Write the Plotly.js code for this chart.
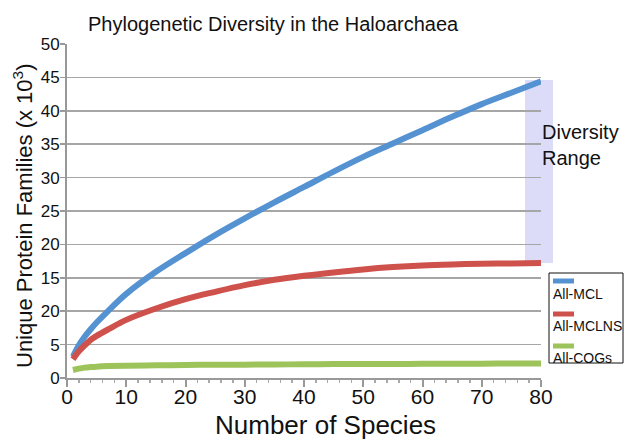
<!DOCTYPE html>
<html>
<head>
<meta charset="utf-8">
<script src="https://cdn.plot.ly/plotly-3.0.1.min.js"></script>
<style>html,body{margin:0;padding:0;background:#fff;}#chart{width:625px;height:440px;}</style>
</head>
<body>
<div id="chart"></div>
<script>
// Data
var species = [1, 2, 3, 4, 5, 7, 10, 15, 20, 25, 30, 35, 40, 45, 50, 55, 60, 65, 70, 75, 80];
var allMCL   = [3.2, 4.9, 6.2, 7.3, 8.3, 10.1, 12.6, 15.9, 18.7, 21.4, 23.9, 26.3, 28.6, 30.9, 33.1, 35.1, 37.1, 39.1, 41.0, 42.7, 44.4];
var allMCLNS = [2.8, 4.0, 4.9, 5.7, 6.3, 7.3, 8.7, 10.4, 11.8, 12.9, 13.9, 14.7, 15.3, 15.8, 16.25, 16.6, 16.85, 17.0, 17.1, 17.15, 17.2];
var allCOGs  = [1.2, 1.4, 1.55, 1.63, 1.7, 1.78, 1.85, 1.9, 1.95, 1.98, 2.0, 2.03, 2.05, 2.08, 2.1, 2.11, 2.12, 2.14, 2.15, 2.17, 2.18];
var yTickVals = [0, 5, 10, 15, 20, 25, 30, 35, 40, 45, 50];
var yTickText = ["0", "5", "20", "15", "20", "25", "30", "35", "40", "45", "50"];
var xTickVals = [0, 10, 20, 30, 40, 50, 60, 70, 80];
var seriesNames = ["All-MCL", "All-MCLNS", "All-COGs"];
var seriesColors = ["#5592d2", "#cf514c", "#9dc35b"];

var font = "Liberation Sans, Arial, sans-serif";
var series = [allMCL, allMCLNS, allCOGs];
var traces = series.map(function (ys, i) {
  return {
    x: species, y: ys, type: "scatter", mode: "lines", name: seriesNames[i],
    line: {color: seriesColors[i], width: 6, shape: "spline"}, showlegend: false
  };
});

var L = 67, R = 541, T = 44, B = 378, W = 625, H = 440;
function px(xp) { return (xp - L) / (R - L); }
function py(yp) { return (B - yp) / (B - T); }

var shapes = [
  {type: "rect", xref: "paper", yref: "paper", x0: px(525), x1: px(553), y0: py(263), y1: py(80),
   fillcolor: "#dcdcf8", line: {width: 0}, layer: "below"},
  {type: "rect", xref: "paper", yref: "paper", x0: px(549), x1: px(623), y0: py(363), y1: py(273),
   fillcolor: "rgba(0,0,0,0)", line: {color: "#111", width: 1}}
];
var annotations = [
  {text: "Phylogenetic Diversity in the Haloarchaea", xref: "paper", yref: "paper", x: px(273), y: py(24),
   xanchor: "center", yanchor: "middle", showarrow: false, font: {family: font, size: 20, color: "#111"}},
  {text: "Number of Species", xref: "paper", yref: "paper", x: px(325), y: py(425),
   xanchor: "center", yanchor: "middle", showarrow: false, font: {family: font, size: 26, color: "#111"}},
  {text: "Unique Protein Families (x 10<sup>3</sup>)", xref: "paper", yref: "paper", x: px(23), y: py(216),
   xanchor: "center", yanchor: "middle", textangle: -90, showarrow: false, font: {family: font, size: 22, color: "#111"}},
  {text: "Diversity<br>Range", xref: "paper", yref: "paper", x: px(540), y: py(145), align: "left",
   xanchor: "left", yanchor: "middle", showarrow: false, font: {family: font, size: 20, color: "#111"}}
];
var legendY = [[281, 293], [314, 325], [346, 357]];
seriesNames.forEach(function (nm, i) {
  shapes.push({type: "line", xref: "paper", yref: "paper", x0: px(553), x1: px(574), y0: py(legendY[i][0]), y1: py(legendY[i][0]),
    line: {color: seriesColors[i], width: 5}});
  annotations.push({text: nm, xref: "paper", yref: "paper", x: px(551), y: py(legendY[i][1] + 1),
    xanchor: "left", yanchor: "middle", showarrow: false, font: {family: font, size: 14, color: "#111"}});
});

var layout = {
  width: W, height: H,
  margin: {l: L, r: W - R, t: T, b: H - B, pad: 0},
  paper_bgcolor: "#fff", plot_bgcolor: "#fff",
  showlegend: false,
  xaxis: {
    range: [0, 80], tickmode: "array", tickvals: xTickVals, ticks: "outside", ticklen: 7, tickwidth: 2, tickcolor: "#999",
    showline: true, linecolor: "#999", linewidth: 2, showgrid: false, zeroline: false,
    tickfont: {family: font, size: 21, color: "#111"}, ticklabelstandoff: -8,
    minor: {dtick: 2, ticks: "outside", ticklen: 3, tickcolor: "#aaa", tickwidth: 1.5, showgrid: false}
  },
  yaxis: {
    range: [0, 50], tickmode: "array", tickvals: yTickVals, ticktext: yTickText, ticks: "outside", ticklen: 5, tickwidth: 1.5, tickcolor: "#999",
    showline: true, linecolor: "#999", linewidth: 2, showgrid: true, gridcolor: "#a6a6a6", gridwidth: 1.5,
    zeroline: false, tickfont: {family: font, size: 17, color: "#111"}, ticklabelstandoff: -3
  },
  shapes: shapes,
  annotations: annotations
};
Plotly.newPlot("chart", traces, layout, {displayModeBar: false, staticPlot: true});
</script>
</body>
</html>
